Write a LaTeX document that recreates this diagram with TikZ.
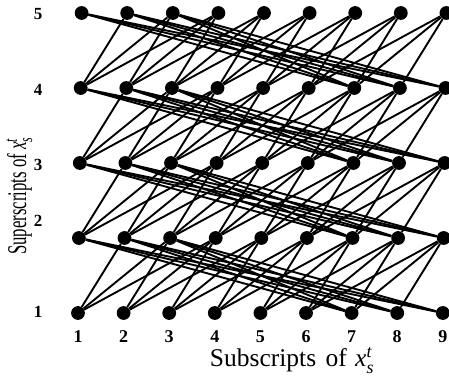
\documentclass[tikz,border=0pt]{standalone}
\usepackage{amsmath}
\usepackage{fontspec}
\setmainfont{Liberation Serif}
\usepackage{graphicx}
\begin{document}
\begin{tikzpicture}[x=1pt,y=1pt,
  dot/.style={circle,fill=black,inner sep=0pt,minimum size=13.8pt},
  edge/.style={line width=1.9pt,black},
  collbl/.style={font=\fontsize{18}{18}\selectfont\bfseries,anchor=base,inner sep=0pt},
  rowlbl/.style={font=\fontsize{17}{17}\selectfont\bfseries,inner sep=0pt},
  axlbl/.style={anchor=base,inner sep=0pt},
]
\useasboundingbox (0,0) rectangle (449,390);
% nodes
\foreach \t in {1,...,5}{
  \foreach \s in {1,...,9}{
    \pgfmathsetmacro\px{78+45.6*(\s-1)+0.9*(\t-1)}
    \pgfmathsetmacro\py{390-(313-75*(\t-1))}
    \node[dot] (n-\s-\t) at (\px,\py) {};
  }
}
% forward edges (s,t) -> (s+k,t+1), k=1..3
\foreach \t in {1,...,4}{
  \foreach \s in {1,...,8}{
    \foreach \k in {1,2,3}{
      \pgfmathtruncatemacro\sn{\s+\k}
      \pgfmathtruncatemacro\tn{\t+1}
      \ifnum\sn<10
        \draw[edge] (n-\s-\t) -- (n-\sn-\tn);
      \fi
    }
  }
}
% long edges (s,t+1) -> (s',t), s=1..3, s'=7..9
\foreach \t in {1,...,4}{
  \foreach \s in {1,2,3}{
    \foreach \sp in {7,8,9}{
      \pgfmathtruncatemacro\tn{\t+1}
      \draw[edge] (n-\s-\tn) -- (n-\sp-\t);
    }
  }
}
% column labels
\foreach \s in {1,...,9}{
  \pgfmathsetmacro\px{78+45.6*(\s-1)}
  \node[collbl] (c-\s) at (\px,390-343) {\s};
}
% row labels
\node[rowlbl] (r-5) at (38,390-14.5) {5};
\node[rowlbl] (r-4) at (38,390-90) {4};
\node[rowlbl] (r-3) at (38,390-165) {3};
\node[rowlbl] (r-2) at (38,390-221) {2};
\node[rowlbl] (r-1) at (38,390-312) {1};
% axis labels
\node[axlbl,font=\fontsize{25.5}{25.5}\selectfont] (xl) at (292,390-367) {Subscripts\hspace{3pt} of\hspace{2pt} \textit{x}$^{\textit{t}}_{\textit{s}}$};
\node[axlbl,rotate=90,font=\fontsize{27}{27}\selectfont] (yl) at (26,390-196) {\scalebox{0.62}[1]{Superscripts of \textit{x}$^{\textit{t}}_{\textit{s}}$}};
\end{tikzpicture}
\end{document}
